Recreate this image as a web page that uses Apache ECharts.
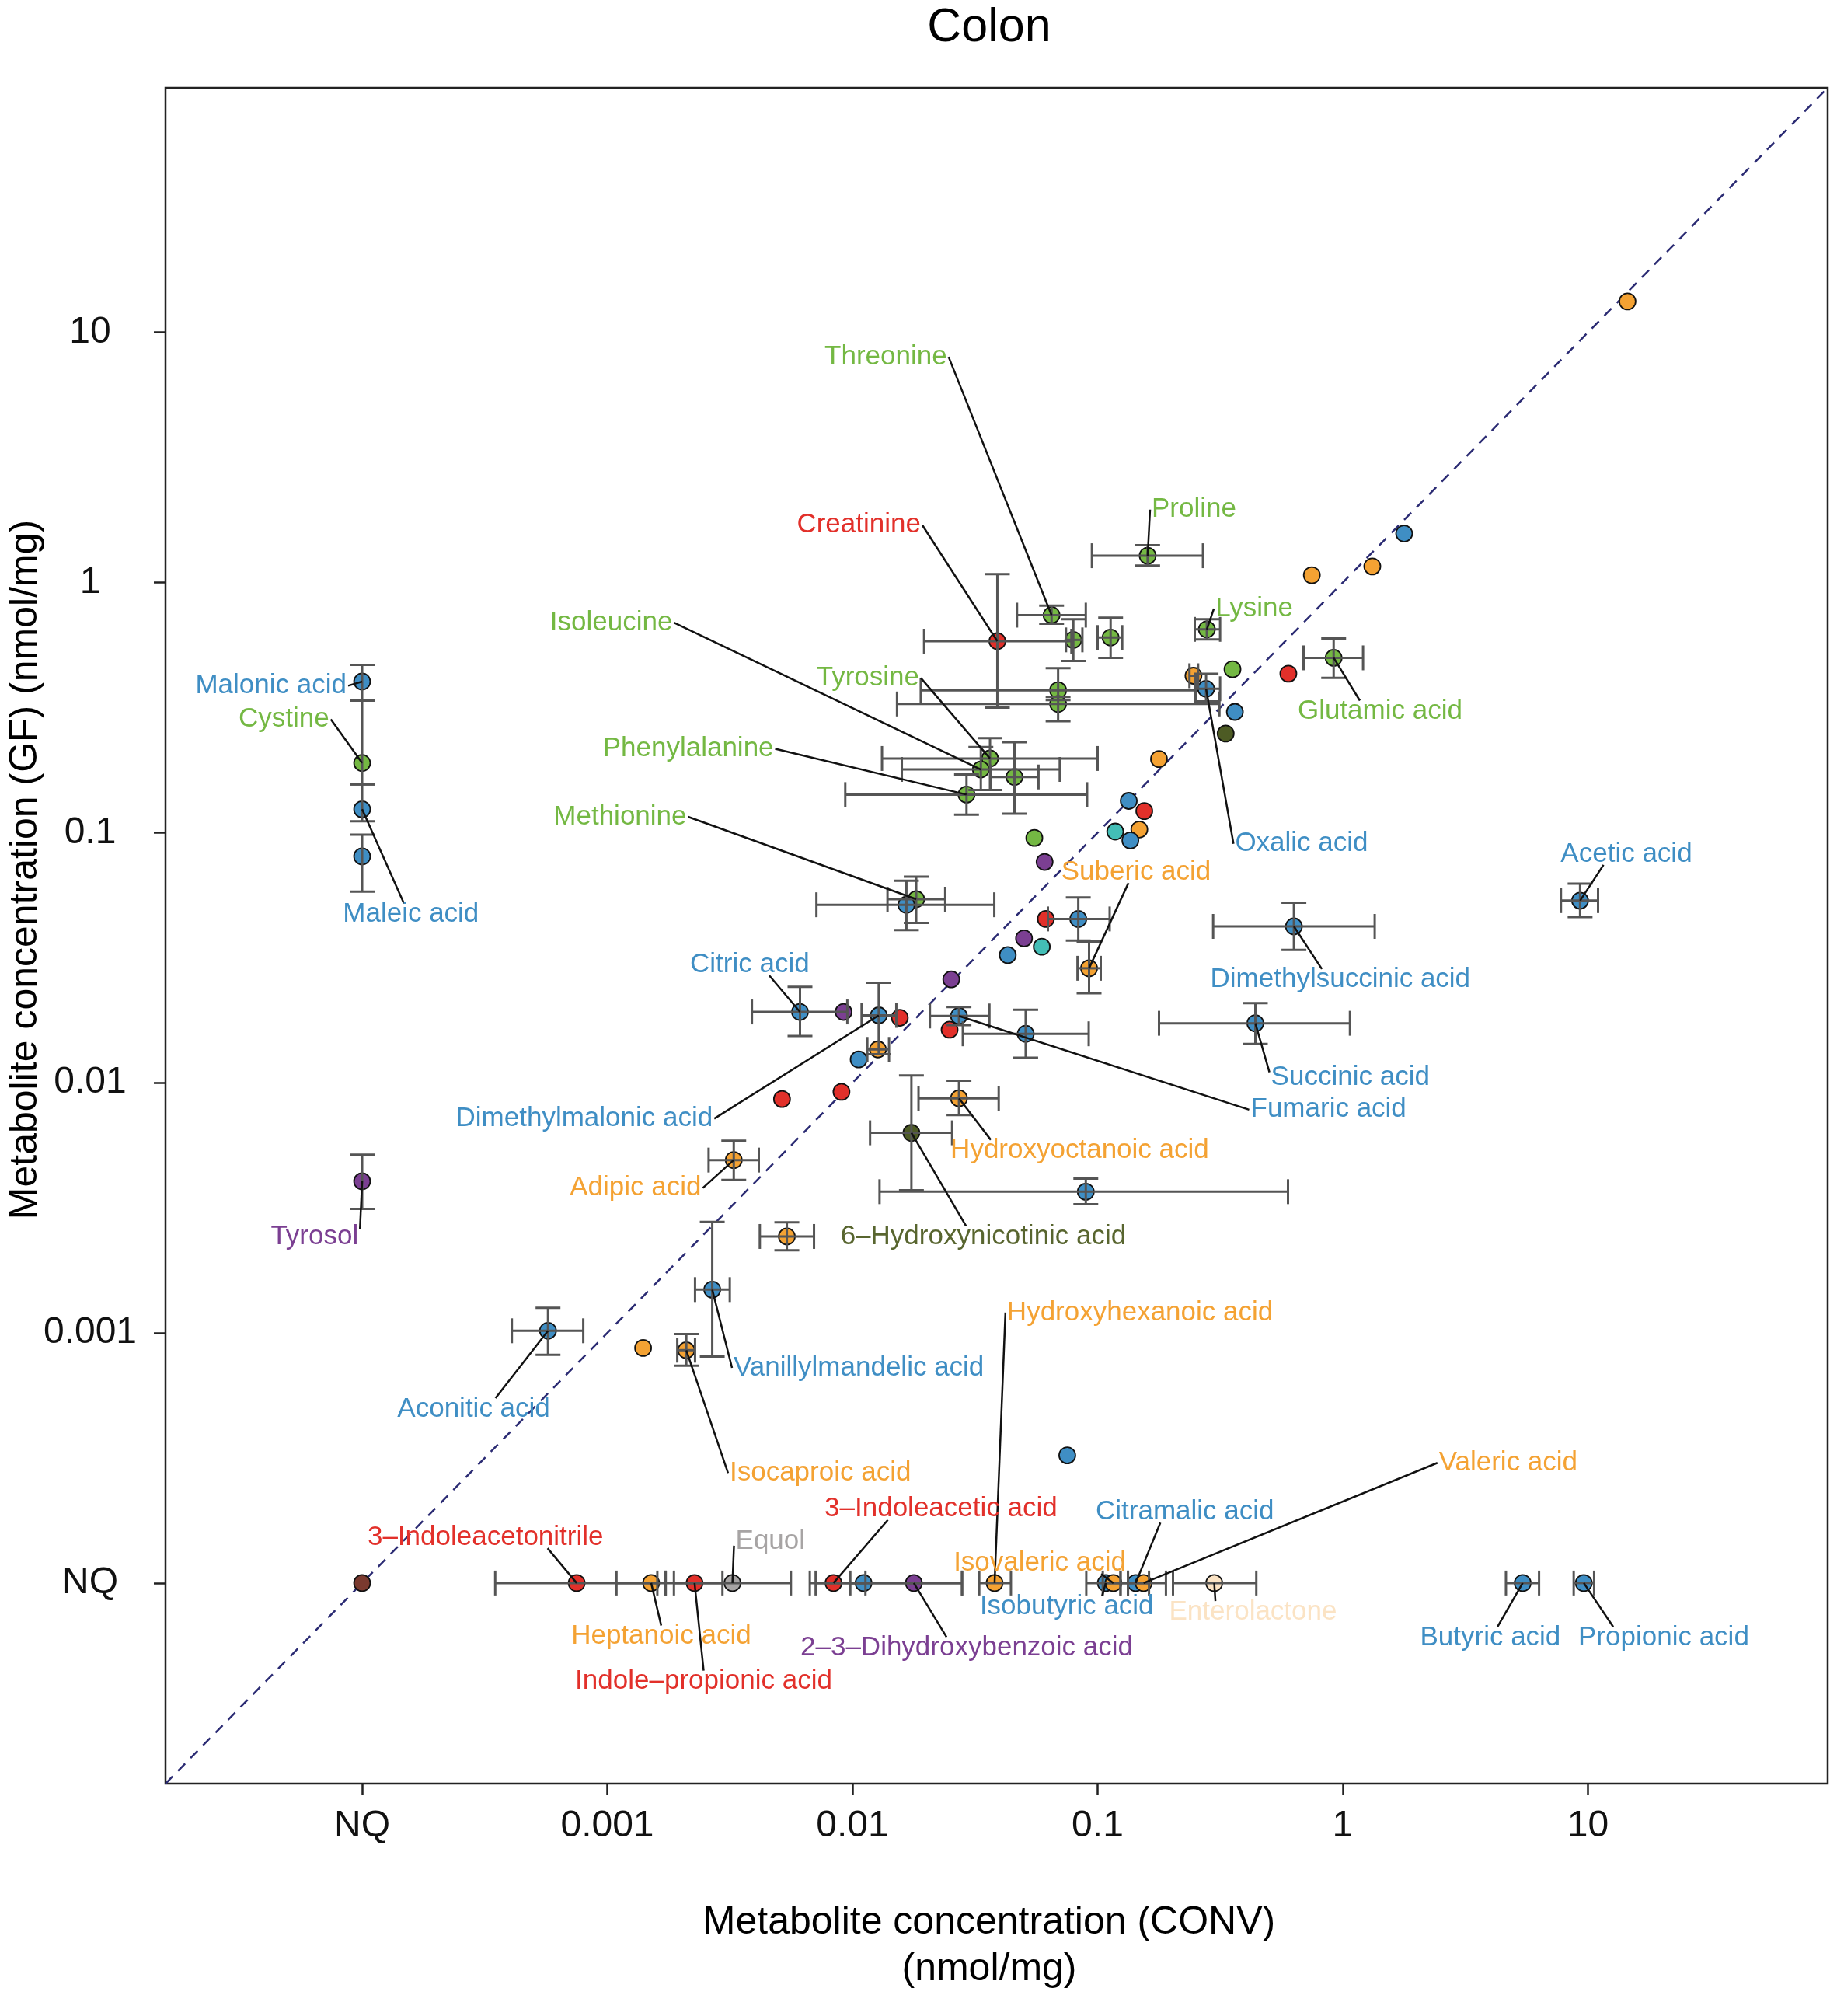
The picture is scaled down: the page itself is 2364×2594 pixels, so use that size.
<!DOCTYPE html>
<html>
<head>
<meta charset="utf-8">
<script src="https://cdn.jsdelivr.net/npm/echarts@6/dist/echarts.min.js"></script>
<style>
  html, body { margin: 0; padding: 0; background: #fff; }
  #chart { width: 2364px; height: 2594px; }
</style>
</head>
<body>
<div id="chart"></div>
<script>
// NQ (not quantified) is drawn at 1e-4 on both axes
var NQ = 1e-4;
var _ = null;

var tickValues = [1e-4, 1e-3, 1e-2, 0.1, 1, 10];
var tickLabels = ['NQ', '0.001', '0.01', '0.1', '1', '10'];

// metabolite names ('' = unlabelled point)
var names = [
  '', '', '', '', 'Proline', 'Threonine', 'Creatinine', '', '', 'Lysine',
  'Glutamic acid', '', '', '', 'Oxalic acid', '', '', '', '', '',
  'Tyrosine', 'Isoleucine', '', 'Phenylalanine', '', '', '', '', '', '',
  '', 'Methionine', '', '', '', '', '', '', 'Suberic acid', '',
  'Dimethylsuccinic acid', 'Acetic acid', 'Succinic acid', 'Citric acid', '', 'Dimethylmalonic acid', '', 'Fumaric acid', '', '',
  '', '', '', '', 'Hydroxyoctanoic acid', '6\u2013Hydroxynicotinic acid', '', 'Adipic acid', '', 'Vanillylmandelic acid',
  'Aconitic acid', '', 'Isocaproic acid', '', 'Malonic acid', 'Cystine', 'Maleic acid', '', 'Tyrosol', '',
  '3\u2013Indoleacetonitrile', 'Heptanoic acid', 'Indole\u2013propionic acid', 'Equol', '3\u2013Indoleacetic acid', '', '2\u20133\u2013Dihydroxybenzoic acid', 'Hydroxyhexanoic acid', 'Isobutyric acid', 'Isovaleric acid',
  'Citramalic acid', 'Valeric acid', 'Enterolactone', 'Butyric acid', 'Propionic acid'
];

// compound class of each point
var groups = [
  'C', 'A', 'C', 'C', 'B', 'B', 'D', 'B', 'B', 'B',
  'B', 'D', 'B', 'C', 'A', 'B', 'B', 'A', 'F', 'C',
  'B', 'B', 'B', 'B', 'A', 'D', 'G', 'C', 'A', 'B',
  'E', 'B', 'A', 'D', 'A', 'E', 'G', 'A', 'C', 'E',
  'A', 'A', 'A', 'A', 'E', 'A', 'D', 'A', 'D', 'A',
  'C', 'A', 'D', 'D', 'C', 'F', 'A', 'C', 'C', 'A',
  'A', 'C', 'C', 'A', 'A', 'B', 'A', 'A', 'E', 'J',
  'D', 'C', 'D', 'H', 'D', 'A', 'E', 'C', 'A', 'C',
  'A', 'C', 'I', 'A', 'A'
];

// concentration, CONV (nmol/mg)
var convX = [
  14.5, 1.78, 0.748, 1.32, 0.160, 0.0649, 0.0390, 0.0796, 0.113, 0.279,
  0.918, 0.600, 0.355, 0.246, 0.277, 0.0690, 0.0690, 0.363, 0.333, 0.178,
  0.0364, 0.0334, 0.0458, 0.0292, 0.134, 0.155, 0.118, 0.148, 0.136, 0.0552,
  0.0608, 0.0182, 0.0166, 0.0615, 0.0834, 0.0501, 0.0592, 0.0430, 0.0923, 0.0253,
  0.632, 9.29, 0.440, 0.00611, 0.00920, 0.0128, 0.0156, 0.0272, 0.0249, 0.0509,
  0.0127, 0.0106, 0.00902, 0.00516, 0.0272, 0.0174, 0.0895, 0.00328, 0.00540, 0.00268,
  0.000573, 0.00140, 0.00210, 0.0752, NQ, NQ, NQ, NQ, NQ, NQ,
  0.000750, 0.00151, 0.00227, 0.00324, 0.00837, 0.0111, 0.0178, 0.0380, 0.108, 0.116,
  0.143, 0.154, 0.299, 5.42, 9.62
];

// concentration, GF (nmol/mg)
var gfY = [
  13.3, 1.57, 1.07, 1.16, 1.28, 0.741, 0.583, 0.590, 0.603, 0.650,
  0.500, 0.432, 0.450, 0.424, 0.376, 0.371, 0.327, 0.304, 0.249, 0.197,
  0.198, 0.179, 0.167, 0.142, 0.134, 0.122, 0.101, 0.103, 0.0931, 0.0953,
  0.0764, 0.0542, 0.0515, 0.0452, 0.0452, 0.0378, 0.0350, 0.0324, 0.0287, 0.0259,
  0.0422, 0.0535, 0.0173, 0.0192, 0.0192, 0.0186, 0.0182, 0.0185, 0.0163, 0.0157,
  0.0136, 0.0124, 0.00920, 0.00861, 0.00867, 0.00631, 0.00367, 0.00491, 0.00243, 0.00149,
  0.00102, 0.000871, 0.000853, 0.000324, 0.402, 0.190, 0.124, 0.0804, 0.00404, NQ,
  NQ, NQ, NQ, NQ, NQ, NQ, NQ, NQ, NQ, NQ,
  NQ, NQ, NQ, NQ, NQ
];

// CONV error range [low, high]
var convErr = [
  _, _, _, _, [0.0948, 0.269], [0.0469, 0.0895], [0.0196, 0.0782], [0.0743, 0.0867], [0.100, 0.126], [0.249, 0.316],
  [0.692, 1.21], _, _, [0.237, 0.257], [0.251, 0.316], [0.0190, 0.249], [0.0152, 0.314], _, _, _,
  [0.0132, 0.100], [0.0159, 0.0701], [0.0368, 0.0574], [0.00935, 0.0906], _, _, _, _, _, _,
  _, [0.0139, 0.0239], [0.00713, 0.0379], _, [0.0627, 0.112], _, _, _, [0.0828, 0.103], _,
  [0.296, 1.35], [7.76, 11.0], [0.178, 1.07], [0.00389, 0.00953], _, [0.0109, 0.0151], _, [0.0207, 0.0362], _, [0.0282, 0.0920],
  [0.0115, 0.0141], _, _, _, [0.0186, 0.0395], [0.0118, 0.0255], [0.0129, 0.598], [0.00259, 0.00415], [0.00419, 0.00697], [0.00228, 0.00316],
  [0.000408, 0.000798], _, [0.00193, 0.00228], _, _, _, _, _, _, _,
  [0.000349, 0.00160], [0.00109, 0.00173], [0.00187, 0.00295], [0.00173, 0.00561], [0.00670, 0.0113], [0.00708, 0.0280], [0.00980, 0.0280], [0.0329, 0.0443], [0.0899, 0.124], [0.105, 0.133],
  [0.124, 0.162], [0.133, 0.190], [0.203, 0.444], [4.63, 6.32], [8.75, 10.6]
];

// GF error range [low, high]
var gfErr = [
  _, _, _, _, [1.17, 1.41], [0.685, 0.809], [0.316, 1.08], [0.486, 0.714], [0.500, 0.724], [0.592, 0.714],
  [0.416, 0.598], _, _, _, [0.335, 0.432], [0.339, 0.455], [0.279, 0.349], _, _, _,
  [0.148, 0.239], [0.148, 0.220], [0.119, 0.230], [0.118, 0.171], _, _, _, _, _, _,
  _, [0.0436, 0.0667], [0.0408, 0.0643], _, [0.0370, 0.0551], _, _, _, [0.0228, 0.0367], _,
  [0.0340, 0.0525], [0.0460, 0.0625], [0.0143, 0.0208], [0.0154, 0.0242], _, [0.0130, 0.0251], _, [0.0170, 0.0201], _, [0.0126, 0.0196],
  _, _, _, _, [0.00743, 0.0102], [0.00372, 0.0107], [0.00327, 0.00414], [0.00409, 0.00587], [0.00214, 0.00277], [0.000804, 0.00278],
  [0.000817, 0.00126], _, [0.000740, 0.000989], _, [0.337, 0.469], [0.156, 0.337], [0.111, 0.156], [0.0581, 0.0982], [0.00313, 0.00516], _,
  _, _, _, _, _, _, _, _, _, _,
  _, _, _, _, _
];

// label layout: name, log10 CONV, log10 GF of the label centre,
// and where the leader line leaves the label box (-1..1 across, -1..1 down)
var labelPlace = [
  ['Threonine', -1.864, 0.918, 1, 0], ['Creatinine', -1.974, 0.245, 1, 0], ['Proline', -0.607, 0.307, -1, 0],
  ['Lysine', -0.361, -0.089, -1, 0], ['Isoleucine', -2.984, -0.145, 1, 0], ['Tyrosine', -1.937, -0.366, 1, 0],
  ['Malonic acid', -4.372, -0.397, 1, 0], ['Cystine', -4.319, -0.531, 1, 0], ['Glutamic acid', 0.152, -0.500, -0.24, -1],
  ['Phenylalanine', -2.670, -0.649, 1, 0], ['Methionine', -2.948, -0.921, 1, 0], ['Oxalic acid', -0.168, -1.029, -1, 0],
  ['Acetic acid', 1.157, -1.070, -0.34, 1], ['Suberic acid', -0.843, -1.142, -0.1, 1], ['Maleic acid', -3.801, -1.311, -0.1, -1],
  ['Citric acid', -2.419, -1.512, 0.32, 1], ['Dimethylsuccinic acid', -0.010, -1.573, -0.14, -1], ['Succinic acid', 0.031, -1.964, -1, -0.5],
  ['Fumaric acid', -0.058, -2.092, -1, 0], ['Dimethylmalonic acid', -3.094, -2.128, 1, 0], ['Hydroxyoctanoic acid', -1.073, -2.256, -0.68, -1],
  ['Adipic acid', -2.885, -2.405, 1, 0], ['Tyrosol', -4.194, -2.600, 1, -0.7], ['6\u2013Hydroxynicotinic acid', -1.466, -2.600, -0.12, -1],
  ['Hydroxyhexanoic acid', -0.827, -2.903, -1, 0], ['Vanillylmandelic acid', -1.974, -3.124, -1, 0], ['Aconitic acid', -3.545, -3.289, 0.28, -1],
  ['Isocaproic acid', -2.131, -3.545, -1, 0], ['Valeric acid', 0.675, -3.504, -1, 0], ['3\u2013Indoleacetic acid', -1.639, -3.689, -0.45, 1],
  ['Citramalic acid', -0.644, -3.700, -0.27, 1], ['3\u2013Indoleacetonitrile', -3.497, -3.802, 0.52, 1], ['Equol', -2.335, -3.818, -1, 0.4],
  ['Isovaleric acid', -1.236, -3.905, 0.7, 1], ['Isobutyric acid', -1.126, -4.080, 0.4, -1], ['Enterolactone', -0.366, -4.100, -0.44, -1],
  ['Heptanoic acid', -2.780, -4.198, 0, -1], ['Butyric acid', 0.602, -4.203, 0.1, -1], ['Propionic acid', 1.309, -4.203, -0.58, -1],
  ['2\u20133\u2013Dihydroxybenzoic acid', -1.534, -4.244, -0.12, -1], ['Indole\u2013propionic acid', -2.607, -4.378, 0, -1]
];

var palette = {
  A: '#3f8ec4', B: '#74b843', C: '#f4a233', D: '#e2302a', E: '#7b3f92',
  F: '#4d5b24', G: '#43beb6', H: '#a7a4a4', I: '#fbe3c4', J: '#7a3a2f'
};
var textPalette = { F: '#58652f' };

var AXIS_MIN = Math.pow(10, -4.802);
var AXIS_MAX = Math.pow(10, 1.978);
var CAP = 16;
var FONT = '"Liberation Sans", Arial, sans-serif';
var LABEL_FONT = '35px ' + FONT;

var measureCtx = document.createElement('canvas').getContext('2d');
measureCtx.font = LABEL_FONT;

function tickFormatter(v) {
  var e = Math.round(Math.log10(v));
  return tickLabels[e + 4] || '';
}

// build series data
var pointData = convX.map(function (x, i) { return [x, gfY[i], i]; });

var errData = [];
convX.forEach(function (x, i) {
  var cx = convErr[i], gy = gfErr[i];
  if (!cx && !gy) return;
  errData.push([x, gfY[i],
    cx ? cx[0] : x, cx ? cx[1] : x,
    gy ? gy[0] : gfY[i], gy ? gy[1] : gfY[i]]);
});

var labelData = labelPlace.map(function (l, k) {
  var i = names.indexOf(l[0]);
  return [Math.pow(10, l[1]), Math.pow(10, l[2]), convX[i], gfY[i], i, k];
});

function seg(x1, y1, x2, y2, style) {
  return { type: 'line', shape: { x1: x1, y1: y1, x2: x2, y2: y2 }, style: style };
}

function renderErr(params, api) {
  var x = api.value(0), y = api.value(1);
  var xl = api.value(2), xh = api.value(3), yl = api.value(4), yh = api.value(5);
  var c = api.coord([x, y]);
  var st = { stroke: '#555', lineWidth: 3 };
  var kids = [];
  if (xl !== xh) {
    var a = api.coord([xl, y]), b = api.coord([xh, y]);
    kids.push(seg(a[0], c[1], b[0], c[1], st));
    kids.push(seg(a[0], c[1] - CAP, a[0], c[1] + CAP, st));
    kids.push(seg(b[0], c[1] - CAP, b[0], c[1] + CAP, st));
  }
  if (yl !== yh) {
    var p = api.coord([x, yl]), q = api.coord([x, yh]);
    kids.push(seg(c[0], p[1], c[0], q[1], st));
    kids.push(seg(c[0] - CAP, p[1], c[0] + CAP, p[1], st));
    kids.push(seg(c[0] - CAP, q[1], c[0] + CAP, q[1], st));
  }
  return { type: 'group', children: kids };
}

function renderLabel(params, api) {
  var idx = api.value(4);
  var place = labelPlace[api.value(5)];
  var text = names[idx];
  var t = api.coord([api.value(0), api.value(1)]);
  t = [t[0], t[1] + 5];
  var p = api.coord([api.value(2), api.value(3)]);
  var hw = measureCtx.measureText(text).width / 2 + 2, hh = 14;
  var sx = t[0] + place[3] * hw, sy = t[1] + place[4] * hh;
  var g = groups[idx];
  return {
    type: 'group',
    children: [
      seg(sx, sy, p[0], p[1], { stroke: '#111', lineWidth: 2.5 }),
      {
        type: 'text', x: t[0], y: t[1],
        style: {
          text: text, fill: textPalette[g] || palette[g], font: LABEL_FONT,
          align: 'center', verticalAlign: 'middle',
          textAlign: 'center', textVerticalAlign: 'middle'
        }
      }
    ]
  };
}

function axisCfg(label) {
  return {
    type: 'log',
    logBase: 10,
    min: AXIS_MIN,
    max: AXIS_MAX,
    splitLine: { show: false },
    minorTick: { show: false },
    axisLine: { show: false },
    axisTick: {
      show: true, inside: false, length: 15, customValues: tickValues,
      lineStyle: { color: '#222', width: 2.5 }
    },
    axisLabel: Object.assign({
      customValues: tickValues, formatter: tickFormatter,
      fontSize: 48, color: '#111', fontFamily: FONT
    }, label)
  };
}

function centeredText(x, y, text, size, extra) {
  return Object.assign({
    type: 'text', x: x, y: y,
    style: { text: text, font: size + 'px ' + FONT, fill: '#000',
      align: 'center', verticalAlign: 'middle', textAlign: 'center', textVerticalAlign: 'middle' }
  }, extra || {});
}

var chart = echarts.init(document.getElementById('chart'), null, { renderer: 'canvas' });

chart.setOption({
  animation: false,
  backgroundColor: '#fff',
  grid: {
    left: 213, right: 12, top: 113, bottom: 299,
    show: true, borderColor: '#222', borderWidth: 2.5
  },
  xAxis: axisCfg({ margin: 31 }),
  yAxis: axisCfg({ margin: 97, align: 'center', padding: [14, 0, 0, 0] }),
  graphic: [
    centeredText(1273, 36, 'Colon', 61),
    centeredText(1273, 2474, 'Metabolite concentration (CONV)', 50),
    centeredText(1273, 2534, '(nmol/mg)', 50),
    centeredText(33, 1119, 'Metabolite concentration (GF) (nmol/mg)', 50, { rotation: Math.PI / 2 })
  ],
  series: [
    {
      // identity line
      type: 'line',
      data: [[AXIS_MIN, AXIS_MIN], [AXIS_MAX, AXIS_MAX]],
      symbol: 'none',
      silent: true,
      z: 1,
      lineStyle: { color: '#2b2b73', width: 2.5, type: [13, 10] }
    },
    {
      type: 'scatter',
      data: pointData,
      symbolSize: 21,
      z: 2,
      itemStyle: {
        color: function (p) { return palette[groups[p.data[2]]]; },
        borderColor: '#111',
        borderWidth: 1.8,
        opacity: 1
      }
    },
    {
      type: 'custom',
      data: errData,
      renderItem: renderErr,
      encode: { x: 0, y: 1 },
      silent: true,
      z: 3
    },
    {
      type: 'custom',
      data: labelData,
      renderItem: renderLabel,
      encode: { x: 0, y: 1 },
      silent: true,
      clip: false,
      z: 4
    }
  ]
});
</script>
</body>
</html>
